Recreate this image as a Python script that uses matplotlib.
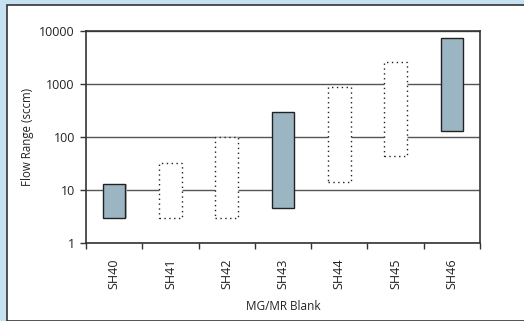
import numpy as np
import matplotlib.pyplot as plt
from matplotlib.patches import Rectangle

# Flow ranges per blank (sccm)
blanks = ["SH40", "SH41", "SH42", "SH43", "SH44", "SH45", "SH46"]
flow_min = [3, 3, 3, 4.6, 14, 44, 130]
flow_max = [13, 33, 100, 290, 880, 2600, 7300]
stocked = [True, False, False, True, False, False, True]

plt.rcParams['font.family'] = ['Open Sans', 'DejaVu Sans']

fig = plt.figure(figsize=(5.24, 3.21), dpi=100)
fig.patch.set_facecolor("#c6e1f1")
# white panel behind the chart
fig.patches.append(Rectangle((7 / 524, 0), 1.0, 1 - 5 / 321, transform=fig.transFigure,
                             facecolor="white", edgecolor="#333333", linewidth=1.2, zorder=-10))

ax = fig.add_axes([86 / 524, 1 - 243 / 321, 394 / 524, 212 / 321])
ax.set_facecolor("white")
ax.set_yscale("log")
ax.set_ylim(1, 10000)
ax.set_xlim(-0.5, len(blanks) - 0.5)

ax.set_yticks([1, 10, 100, 1000, 10000])
ax.set_yticklabels(["1", "10", "100", "1000", "10000"])
ax.yaxis.set_minor_locator(plt.NullLocator())
ax.grid(axis="y", color="#555555", linewidth=1.0, zorder=1)

x = np.arange(len(blanks))
for xi, lo, hi, solid in zip(x, flow_min, flow_max, stocked):
    if solid:
        # soft shadow
        ax.bar(xi + 0.02, hi - lo, bottom=lo, width=0.4, color="#bbbbbb",
               edgecolor="none", zorder=2)
        ax.bar(xi, hi - lo, bottom=lo, width=0.4, color="#9bb5c2",
               edgecolor="#222222", linewidth=1.0, zorder=3)
    else:
        ax.bar(xi, hi - lo, bottom=lo, width=0.4, color="white",
               edgecolor="#222222", linewidth=1.0, linestyle=(0, (1, 2.5)), zorder=3)

ax.set_xticks(x)
ax.set_xticklabels(blanks, rotation=90, fontsize=9, color="#222222")
ax.tick_params(axis="x", which="major", length=0, pad=11)
ax.set_xticks(np.arange(-0.5, len(blanks), 1.0), minor=True)
ax.tick_params(axis="x", which="minor", length=4, width=1, color="#333333", direction="out")
ax.tick_params(axis="y", length=4, width=1, color="#333333", labelsize=9, labelcolor="#222222", pad=4)

for side in ["left", "bottom", "right", "top"]:
    ax.spines[side].set_color("#333333")
    ax.spines[side].set_linewidth(1.2)

ax.set_ylabel("Flow Range (sccm)", fontsize=8.3, labelpad=4, color="#222222")
ax.set_xlabel("MG/MR Blank", fontsize=8.5, labelpad=8, color="#222222")

fig.savefig("out.png", dpi=100, facecolor=fig.get_facecolor())
